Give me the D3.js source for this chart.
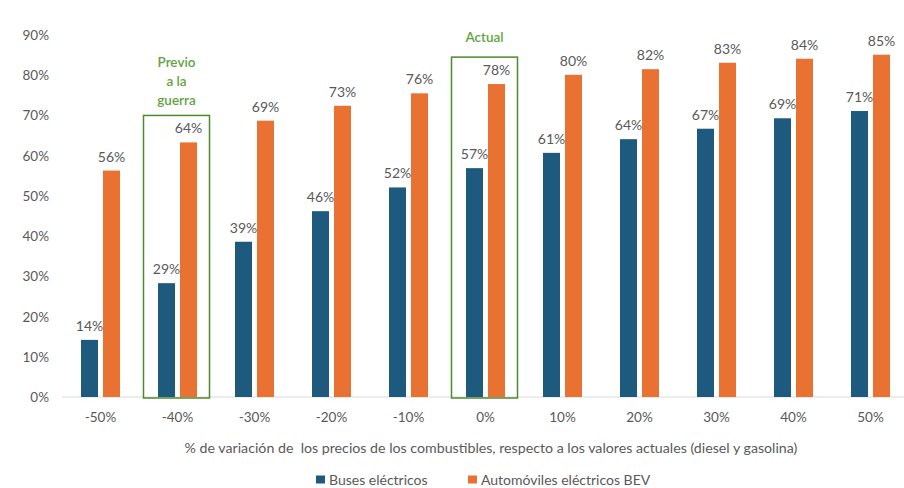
<html>
<head>
<script src="https://cdnjs.cloudflare.com/ajax/libs/d3/7.8.5/d3.min.js"></script>
<style>
  body { margin: 0; background: #fff; }
  text { font-family: Lato, "Open Sans", sans-serif; }
</style>
</head>
<body>
<svg id="chart" width="904" height="488"></svg>
<script>
const categories = ["-50%", "-40%", "-30%", "-20%", "-10%", "0%", "10%", "20%", "30%", "40%", "50%"];
const buses = [14.2, 28.3, 38.6, 46.2, 52.1, 56.9, 60.7, 64.1, 66.7, 69.3, 71.1];
const busesLabels = ["14%", "29%", "39%", "46%", "52%", "57%", "61%", "64%", "67%", "69%", "71%"];
const autos = [56.3, 63.3, 68.7, 72.4, 75.5, 77.8, 80.1, 81.5, 83.1, 84.1, 85.1];
const autosLabels = ["56%", "64%", "69%", "73%", "76%", "78%", "80%", "82%", "83%", "84%", "85%"];
const seriesNames = ["Buses eléctricos", "Automóviles eléctricos BEV"];
const yTicks = [0, 10, 20, 30, 40, 50, 60, 70, 80, 90];
// highlighted groups: category, box top (in %), caption lines
const highlights = [
  { cat: "-40%", top: 70, lines: ["Previo", "a la", "guerra"], gap: 10 },
  { cat: "0%", top: 84.5, lines: ["Actual"], gap: 15 }
];

const svg = d3.select("#chart");
const blue = "#1d5a7e", orange = "#e97132", grey = "#595959";
const greenText = "#62a33f", greenBox = "#4d8a2c";

const x = d3.scaleBand().domain(categories).range([62, 909]);
const y = d3.scaleLinear().domain([0, 90]).range([397, 35]);

// baseline
svg.append("line")
  .attr("x1", 62).attr("x2", 904)
  .attr("y1", y(0)).attr("y2", y(0))
  .attr("stroke", "#d9d9d9").attr("stroke-width", 1);

// y axis labels
svg.selectAll("text.ytick").data(yTicks).join("text")
  .attr("class", "ytick")
  .attr("x", 49).attr("y", d => y(d) + 5)
  .attr("text-anchor", "end")
  .attr("fill", grey).attr("font-size", 13.5)
  .text(d => d + "%");

// x axis labels
svg.selectAll("text.xtick").data(categories).join("text")
  .attr("class", "xtick")
  .attr("x", d => x(d) + x.bandwidth() / 2).attr("y", 422)
  .attr("text-anchor", "middle")
  .attr("fill", grey).attr("font-size", 13.5)
  .text(d => d);

const bw = 17;
const series = [
  { vals: buses, labels: busesLabels, color: blue, off: -19.5 },
  { vals: autos, labels: autosLabels, color: orange, off: 2.5 }
];

series.forEach(s => {
  const g = svg.append("g");
  g.selectAll("rect").data(s.vals).join("rect")
    .attr("x", (d, i) => x(categories[i]) + x.bandwidth() / 2 + s.off)
    .attr("width", bw)
    .attr("y", d => y(d))
    .attr("height", d => y(0) - y(d))
    .attr("fill", s.color);
  g.selectAll("text").data(s.vals).join("text")
    .attr("x", (d, i) => x(categories[i]) + x.bandwidth() / 2 + s.off + bw / 2)
    .attr("y", d => y(d) - 9)
    .attr("text-anchor", "middle")
    .attr("fill", grey).attr("font-size", 14)
    .text((d, i) => s.labels[i]);
});

// green boxes with captions
highlights.forEach(h => {
  const cx = x(h.cat) + x.bandwidth() / 2 - 1;
  svg.append("rect")
    .attr("x", cx - 33).attr("width", 66)
    .attr("y", y(h.top)).attr("height", y(0) - y(h.top) + 1)
    .attr("fill", "none").attr("stroke", greenBox).attr("stroke-width", 1.5);
  const n = h.lines.length;
  h.lines.forEach((l, i) => {
    svg.append("text")
      .attr("x", cx).attr("y", y(h.top) - h.gap - (n - 1 - i) * 19)
      .attr("text-anchor", "middle")
      .attr("fill", greenText).attr("font-size", 13.5).attr("font-weight", 600)
      .text(l);
  });
});

// axis title
svg.append("text")
  .attr("x", 491).attr("y", 453)
  .attr("text-anchor", "middle")
  .attr("fill", grey).attr("font-size", 14.2)
  .style("white-space", "pre")
  .text("% de variación de  los precios de los combustibles, respecto a los valores actuales (diesel y gasolina)");

// legend
const legX = [316, 468];
seriesNames.forEach((name, i) => {
  svg.append("rect")
    .attr("x", legX[i]).attr("y", 475.5)
    .attr("width", 9).attr("height", 8)
    .attr("fill", i === 0 ? blue : orange);
  svg.append("text")
    .attr("x", legX[i] + 13).attr("y", 484.5)
    .attr("fill", grey).attr("font-size", 14)
    .text(name);
});
</script>
</body>
</html>
